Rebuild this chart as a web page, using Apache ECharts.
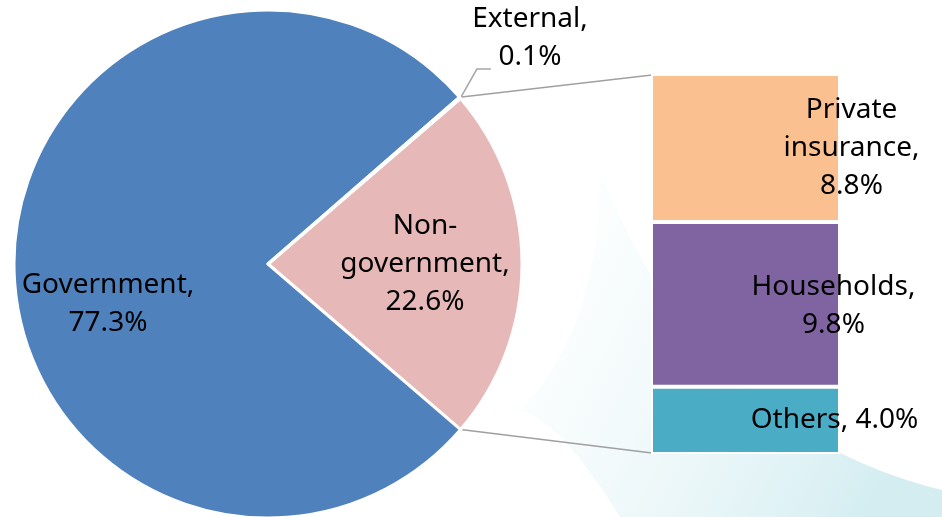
<!DOCTYPE html>
<html>
<head>
<meta charset="utf-8">
<script src="https://cdn.jsdelivr.net/npm/echarts@6/dist/echarts.min.js"></script>
<style>
html,body{margin:0;padding:0;background:#fff;}
#main{width:942px;height:517px;}
</style>
</head>
<body>
<div id="main"></div>
<script>
// ---- data ----
var pieCategories = ['Non-government', 'Government', 'External'];
var pieLabelText = ['Non-\ngovernment,', 'Government,', 'External,'];
var pieValues = [22.6, 77.3, 0.1];

var barCategories = ['Others', 'Households', 'Private insurance'];
var barLabelText = ['Others,', 'Households,', 'Private\ninsurance,'];
var barValues = [4.0, 9.8, 8.8];

// ---- layout / style ----
var FONT = 'Noto Sans';
var FS = 28;
var PIE_CENTER = [268, 264];
var PIE_R = 254;
var START = 40.68;
var pieColors = ['#E6B9B8', '#4F81BD', '#4F81BD'];
var barColors = ['#4BACC6', '#8064A2', '#FAC090'];
var barTotal = barValues.reduce(function(a,b){return a+b;},0);

var chart = echarts.init(document.getElementById('main'), null, {renderer:'canvas'});

var pieData = pieCategories.map(function(name, i){
  var d = {name: name, value: pieValues[i], itemStyle:{color: pieColors[i]}};
  if (i === 0) {
    d.label = {position:'inside', offset:[27, 0]};
  } else if (i === 1) {
    d.label = {position:'inside', offset:[-30, 40]};
  } else {
    d.label = {position:'outside'};
    d.labelLine = {show:true, lineStyle:{color:'#A6A6A6', width:1.5}};
  }
  return d;
});

var barLabelOffsets = [[89, 0], [88, 2], [106, 0]];
var barSeries = barCategories.map(function(name, i){
  return {
    name: name,
    type: 'bar',
    stack: 'nonGov',
    barWidth: '100%',
    data: [barValues[i]],
    itemStyle: {color: barColors[i], borderColor:'#ffffff', borderWidth: 2},
    label: {
      show: true,
      position: 'inside',
      offset: barLabelOffsets[i],
      formatter: function(){ return (i === 0 ? barLabelText[i] + ' ' : barLabelText[i] + '\n') + barValues[i].toFixed(1) + '%'; },
      fontFamily: FONT, fontSize: FS, color: '#000', lineHeight: 38, align: 'center'
    },
    z: 2 + i
  };
});

var option = {
  backgroundColor: '#ffffff',
  animation: false,
  grid: {left: 651, top: 74, width: 189, height: 380},
  xAxis: {type:'category', data:['nonGov'], show:false},
  yAxis: {type:'value', min:0, max: barTotal, show:false},
  series: [{
    type: 'pie',
    center: PIE_CENTER,
    radius: PIE_R,
    startAngle: START,
    clockwise: true,
    avoidLabelOverlap: false,
    itemStyle: {borderColor:'#ffffff', borderWidth: 3},
    label: {
      show: true,
      fontFamily: FONT, fontSize: FS, color:'#000', lineHeight: 38, align:'center',
      formatter: function(p){ return pieLabelText[p.dataIndex] + '\n' + p.value.toFixed(1) + '%'; }
    },
    labelLayout: function(p){
      if (p.dataIndex === 2) {
        var a = START * Math.PI/180;
        var tip = [PIE_CENTER[0] + (PIE_R-1)*Math.cos(a), PIE_CENTER[1] - (PIE_R-1)*Math.sin(a)];
        return {
          x: 530, y: 38, align:'center', verticalAlign:'middle',
          labelLinePoints: [tip, [tip[0]+17, tip[1]-30], [tip[0]+31, tip[1]-30]]
        };
      }
    },
    data: pieData,
    z: 2
  }].concat(barSeries)
};
chart.setOption(option);

// decorative background swoosh (sampled quadratic curves)
function quad(p0, c, p1, n){
  var pts = [];
  for (var k = 0; k <= n; k++){
    var t = k/n, u = 1-t;
    pts.push([u*u*p0[0] + 2*u*t*c[0] + t*t*p1[0], u*u*p0[1] + 2*u*t*c[1] + t*t*p1[1]]);
  }
  return pts;
}
var swoosh = quad([600,170],[700,430],[942,490],40)
  .concat([[942,517],[620,517]])
  .concat(quad([620,517],[560,420],[520,410],20))
  .concat(quad([520,410],[600,330],[600,170],20));

// connector lines from pie edge to bar corners, computed from layout
function connectors(){
  var a1 = (START + 0.36) * Math.PI/180;
  var a2 = (START - pieValues[0]/100*360) * Math.PI/180;
  var p1 = [PIE_CENTER[0] + PIE_R*Math.cos(a1), PIE_CENTER[1] - PIE_R*Math.sin(a1)];
  var p2 = [PIE_CENTER[0] + PIE_R*Math.cos(a2), PIE_CENTER[1] - PIE_R*Math.sin(a2)];
  var topLeft = chart.convertToPixel({gridIndex:0}, [0, barTotal]);
  var botLeft = chart.convertToPixel({gridIndex:0}, [0, 0]);
  var barLeft = 652;
  chart.setOption({
    graphic: [
      {type:'polygon', z:-10, silent:true,
       shape:{points: swoosh},
       style:{fill: {type:'linear', x:0, y:0, x2:1, y2:0.6, colorStops:[
         {offset:0, color:'rgba(255,255,255,0)'},
         {offset:0.3, color:'rgba(240,249,250,0.5)'},
         {offset:1, color:'#d3edf1'}]}}},
      {type:'polyline', z:1, silent:true, shape:{points:[p1, [barLeft, topLeft[1]+1]]}, style:{stroke:'#A0A0A0', lineWidth:1.5}},
      {type:'polyline', z:1, silent:true, shape:{points:[p2, [barLeft, botLeft[1]-1]]}, style:{stroke:'#A0A0A0', lineWidth:1.5}}
    ]
  });
}
connectors();
</script>
</body>
</html>
